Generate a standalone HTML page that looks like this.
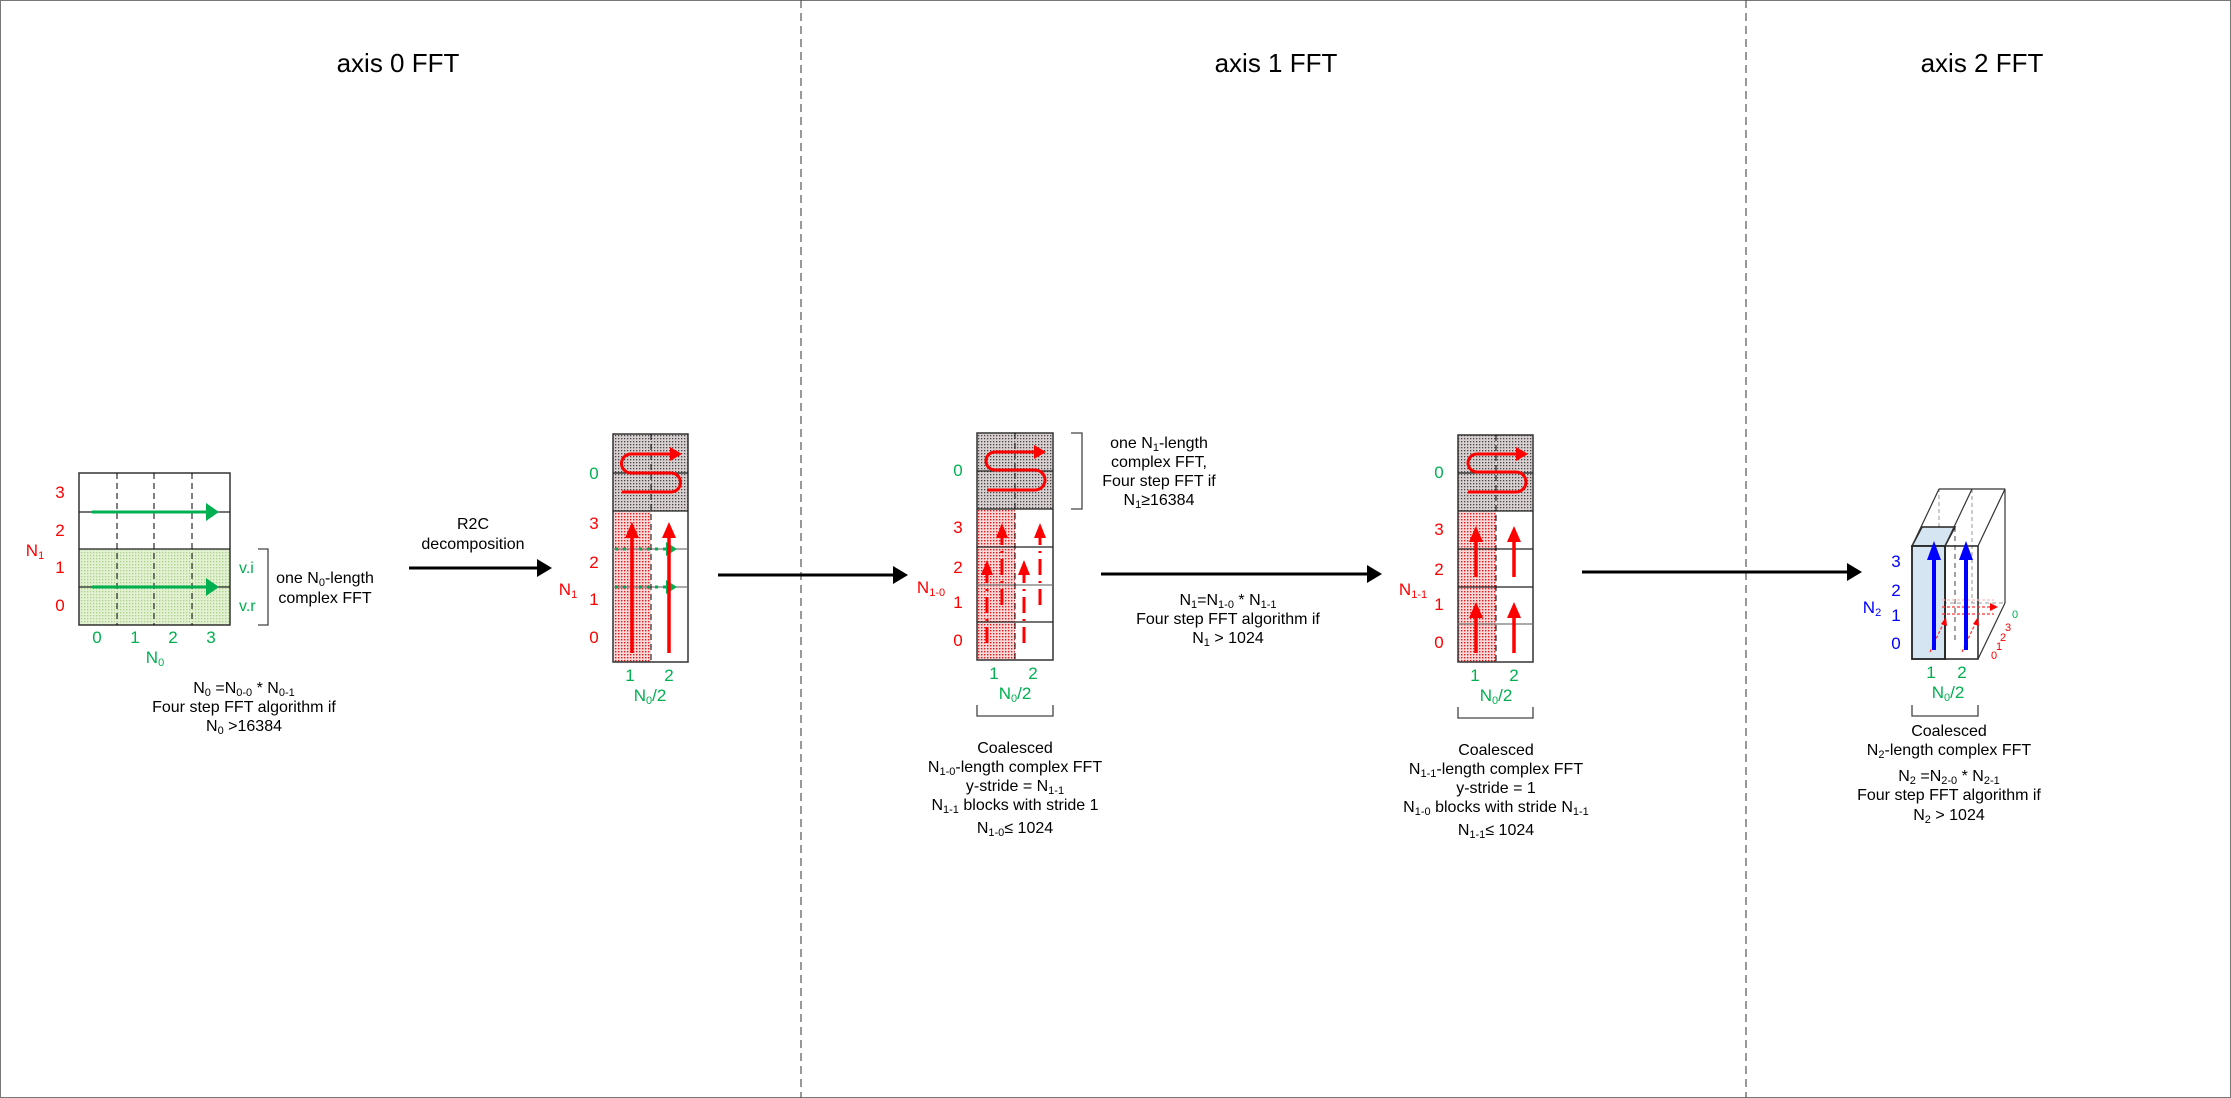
<!DOCTYPE html>
<html><head><meta charset="utf-8"><style>
html,body{margin:0;padding:0;background:#fff}
svg{display:block}
text{font-family:"Liberation Sans",Arial,sans-serif}
</style></head><body>
<svg width="2231" height="1098" viewBox="0 0 2231 1098" xmlns="http://www.w3.org/2000/svg">
<defs>
<pattern id="pd" width="3" height="3" patternUnits="userSpaceOnUse"><rect width="3" height="3" fill="#d8d0d0"/><rect width="1.3" height="1.3" fill="#444"/></pattern>
<pattern id="pr" width="3" height="3" patternUnits="userSpaceOnUse"><rect width="3" height="3" fill="#f8d8d8"/><rect width="1.4" height="1.4" fill="#e01818"/></pattern>
<pattern id="pg" width="3" height="3" patternUnits="userSpaceOnUse"><rect width="3" height="3" fill="#e3f1d3"/><rect width="1.3" height="1.3" fill="#a9cf88"/></pattern>
</defs>
<rect x="0.5" y="0.5" width="2230" height="1097" fill="#fff" stroke="#777"/>
<line x1="801" y1="0" x2="801" y2="1098" stroke="#555" stroke-dasharray="8,5" stroke-width="1.2"/>
<line x1="1746" y1="0" x2="1746" y2="1098" stroke="#555" stroke-dasharray="8,5" stroke-width="1.2"/>

<g font-size="26" text-anchor="middle" fill="#000">
<text x="398" y="72">axis 0 FFT</text>
<text x="1276" y="72">axis 1  FFT</text>
<text x="1982" y="72">axis 2  FFT</text>
</g>

<!-- Left grid -->
<rect x="79" y="549" width="151" height="76" fill="url(#pg)"/>
<rect x="79" y="473" width="151" height="152" fill="none" stroke="#333" stroke-width="1.5"/>
<g stroke="#222" stroke-width="1.2"><line x1="79" y1="512" x2="230" y2="512"/><line x1="79" y1="549" x2="230" y2="549"/><line x1="79" y1="587" x2="230" y2="587"/></g>
<g stroke="#000" stroke-dasharray="6,4"><line x1="117" y1="473" x2="117" y2="625"/><line x1="154" y1="473" x2="154" y2="625"/><line x1="192" y1="473" x2="192" y2="625"/></g>
<g stroke="#00b050" stroke-width="3"><line x1="92" y1="512" x2="206" y2="512"/><line x1="92" y1="587" x2="206" y2="587"/></g>
<g fill="#00b050"><path d="M206,503 L219,512 L206,521z"/><path d="M206,578 L219,587 L206,596z"/></g>
<g font-size="17" fill="#f00" text-anchor="middle"><text x="60" y="498">3</text><text x="60" y="536">2</text><text x="60" y="573">1</text><text x="60" y="611">0</text><text x="35" y="556">N<tspan font-size="11" dy="3">1</tspan></text></g>
<g font-size="17" fill="#00b050" text-anchor="middle"><text x="97" y="643">0</text><text x="135" y="643">1</text><text x="173" y="643">2</text><text x="211" y="643">3</text><text x="155" y="663">N<tspan font-size="11" dy="3">0</tspan></text></g>
<g font-size="16" fill="#00b050"><text x="239" y="573">v.i</text><text x="239" y="611">v.r</text></g>
<path d="M258,549 H268 V625 H258" fill="none" stroke="#444" stroke-width="1.3"/>
<g font-size="16" text-anchor="middle"><text x="325" y="583">one N<tspan font-size="11" dy="3">0</tspan><tspan dy="-3">-length</tspan></text><text x="325" y="603">complex FFT</text>
<text x="244" y="693">N<tspan font-size="11" dy="3">0</tspan><tspan dy="-3"> =N</tspan><tspan font-size="11" dy="3">0-0</tspan><tspan dy="-3"> * N</tspan><tspan font-size="11" dy="3">0-1</tspan></text>
<text x="244" y="712">Four step FFT algorithm if</text>
<text x="244" y="731">N<tspan font-size="11" dy="3">0</tspan><tspan dy="-3"> &gt;16384</tspan></text>
<text x="473" y="529">R2C</text><text x="473" y="549">decomposition</text></g>

<g stroke="#000" stroke-width="3"><line x1="409" y1="568" x2="540" y2="568"/><line x1="718" y1="575" x2="896" y2="575"/><line x1="1101" y1="574" x2="1370" y2="574"/><line x1="1582" y1="572" x2="1850" y2="572"/></g>
<g fill="#000"><path d="M537,559 L552,568 L537,577z"/><path d="M893,566 L908,575 L893,584z"/><path d="M1367,565 L1382,574 L1367,583z"/><path d="M1847,563 L1862,572 L1847,581z"/></g>

<!-- Grid 2 -->
<rect x="613" y="434" width="75" height="77" fill="url(#pd)"/>
<rect x="613" y="511" width="38" height="151" fill="url(#pr)"/>
<rect x="613" y="434" width="75" height="228" fill="none" stroke="#333" stroke-width="1.5"/>
<g stroke="#222" stroke-width="1.2"><line x1="613" y1="473" x2="688" y2="473"/><line x1="613" y1="511" x2="688" y2="511"/><line x1="613" y1="549" x2="688" y2="549" stroke="#777"/><line x1="613" y1="587" x2="688" y2="587" stroke="#777"/></g>
<line x1="651" y1="434" x2="651" y2="662" stroke="#000" stroke-dasharray="6,4"/>
<g stroke="#00b050" stroke-width="3" stroke-dasharray="3,5"><line x1="615" y1="549" x2="668" y2="549"/><line x1="615" y1="587" x2="668" y2="587"/></g>
<g fill="#00b050"><path d="M666,542 L677,549 L666,556z"/><path d="M666,580 L677,587 L666,594z"/></g>
<g stroke="#f00" stroke-width="3.5"><line x1="632" y1="653" x2="632" y2="535"/><line x1="669" y1="653" x2="669" y2="535"/></g>
<g fill="#f00"><path d="M625,538 L632,522 L639,538z"/><path d="M662,538 L669,522 L676,538z"/></g>
<path d="M622,492 H671 A9.5,9.5 0 0 0 671,473 H631 A9.5,9.5 0 0 1 631,454 H672" fill="none" stroke="#f00" stroke-width="3"/>
<path d="M670,447 L682,454 L670,461z" fill="#f00"/>
<g font-size="17" text-anchor="middle"><text x="594" y="479" fill="#00b050">0</text><g fill="#f00"><text x="594" y="529">3</text><text x="594" y="568">2</text><text x="594" y="605">1</text><text x="594" y="643">0</text><text x="568" y="595">N<tspan font-size="11" dy="3">1</tspan></text></g>
<g fill="#00b050"><text x="630" y="681">1</text><text x="669" y="681">2</text><text x="650" y="701">N<tspan font-size="11" dy="3">0</tspan><tspan dy="-3">/2</tspan></text></g></g>

<!-- Grid 3 -->
<rect x="977" y="433" width="76" height="76" fill="url(#pd)"/>
<rect x="977" y="509" width="38" height="151" fill="url(#pr)"/>
<rect x="977" y="433" width="76" height="227" fill="none" stroke="#333" stroke-width="1.5"/>
<g stroke="#222" stroke-width="1.2"><line x1="977" y1="471" x2="1053" y2="471"/><line x1="977" y1="509" x2="1053" y2="509"/><line x1="977" y1="547" x2="1053" y2="547"/><line x1="977" y1="585" x2="1053" y2="585" stroke="#777"/><line x1="977" y1="622" x2="1053" y2="622"/></g>
<line x1="1015" y1="433" x2="1015" y2="660" stroke="#000" stroke-dasharray="6,4"/>
<g stroke="#f00" stroke-width="3" stroke-dasharray="16,6,2,6"><line x1="987" y1="643" x2="987" y2="572"/><line x1="1002" y1="605" x2="1002" y2="535"/><line x1="1024" y1="643" x2="1024" y2="572"/><line x1="1040" y1="605" x2="1040" y2="535"/></g>
<g fill="#f00"><path d="M981,575 L987,560 L993,575z"/><path d="M996,538 L1002,523 L1008,538z"/><path d="M1018,575 L1024,560 L1030,575z"/><path d="M1034,538 L1040,523 L1046,538z"/></g>
<path d="M987,490 H1035 A10,10 0 0 0 1035,470 H995 A9,9 0 0 1 995,452 H1036" fill="none" stroke="#f00" stroke-width="3"/>
<path d="M1034,445 L1046,452 L1034,459z" fill="#f00"/>
<path d="M1071,433 H1082 V509 H1071" fill="none" stroke="#444" stroke-width="1.3"/>
<g font-size="17" text-anchor="middle"><text x="958" y="476" fill="#00b050">0</text><g fill="#f00"><text x="958" y="533">3</text><text x="958" y="573">2</text><text x="958" y="608">1</text><text x="958" y="646">0</text><text x="931" y="593">N<tspan font-size="11" dy="3">1-0</tspan></text></g>
<g fill="#00b050"><text x="994" y="679">1</text><text x="1033" y="679">2</text><text x="1015" y="699">N<tspan font-size="11" dy="3">0</tspan><tspan dy="-3">/2</tspan></text></g></g>
<path d="M977,705 V716 H1053 V705" fill="none" stroke="#444" stroke-width="1.3"/>
<g font-size="16" text-anchor="middle">
<text x="1159" y="448">one N<tspan font-size="11" dy="3">1</tspan><tspan dy="-3">-length</tspan></text><text x="1159" y="467">complex FFT,</text><text x="1159" y="486">Four step FFT if</text><text x="1159" y="505">N<tspan font-size="11" dy="3">1</tspan><tspan dy="-3">≥16384</tspan></text>
<text x="1228" y="605">N<tspan font-size="11" dy="3">1</tspan><tspan dy="-3">=N</tspan><tspan font-size="11" dy="3">1-0</tspan><tspan dy="-3"> * N</tspan><tspan font-size="11" dy="3">1-1</tspan></text>
<text x="1228" y="624">Four step FFT algorithm if</text>
<text x="1228" y="643">N<tspan font-size="11" dy="3">1</tspan><tspan dy="-3"> &gt; 1024</tspan></text>
<text x="1015" y="753">Coalesced</text>
<text x="1015" y="772">N<tspan font-size="11" dy="3">1-0</tspan><tspan dy="-3">-length complex FFT</tspan></text>
<text x="1015" y="791">y-stride = N<tspan font-size="11" dy="3">1-1</tspan></text>
<text x="1015" y="810">N<tspan font-size="11" dy="3">1-1</tspan><tspan dy="-3"> blocks with stride 1</tspan></text>
<text x="1015" y="833">N<tspan font-size="11" dy="3">1-0</tspan><tspan dy="-3">≤ 1024</tspan></text>
</g>

<!-- Grid 4 -->
<rect x="1458" y="435" width="75" height="76" fill="url(#pd)"/>
<rect x="1458" y="511" width="38" height="151" fill="url(#pr)"/>
<rect x="1458" y="435" width="75" height="227" fill="none" stroke="#333" stroke-width="1.5"/>
<g stroke="#222" stroke-width="1.2"><line x1="1458" y1="473" x2="1533" y2="473"/><line x1="1458" y1="511" x2="1533" y2="511"/><line x1="1458" y1="549" x2="1533" y2="549"/><line x1="1458" y1="587" x2="1533" y2="587"/><line x1="1458" y1="624" x2="1533" y2="624" stroke="#777"/></g>
<line x1="1496" y1="435" x2="1496" y2="662" stroke="#000" stroke-dasharray="6,4"/>
<g stroke="#f00" stroke-width="3.5"><line x1="1476" y1="653" x2="1476" y2="615"/><line x1="1476" y1="577" x2="1476" y2="539"/><line x1="1514" y1="653" x2="1514" y2="615"/><line x1="1514" y1="577" x2="1514" y2="539"/></g>
<g fill="#f00"><path d="M1469,618 L1476,602 L1483,618z"/><path d="M1469,542 L1476,526 L1483,542z"/><path d="M1507,618 L1514,602 L1521,618z"/><path d="M1507,542 L1514,526 L1521,542z"/></g>
<path d="M1468,492 H1516 A10,10 0 0 0 1516,472 H1477 A9,9 0 0 1 1477,454 H1518" fill="none" stroke="#f00" stroke-width="3"/>
<path d="M1516,447 L1528,454 L1516,461z" fill="#f00"/>
<g font-size="17" text-anchor="middle"><text x="1439" y="478" fill="#00b050">0</text><g fill="#f00"><text x="1439" y="535">3</text><text x="1439" y="575">2</text><text x="1439" y="610">1</text><text x="1439" y="648">0</text><text x="1413" y="595">N<tspan font-size="11" dy="3">1-1</tspan></text></g>
<g fill="#00b050"><text x="1475" y="681">1</text><text x="1514" y="681">2</text><text x="1496" y="701">N<tspan font-size="11" dy="3">0</tspan><tspan dy="-3">/2</tspan></text></g></g>
<path d="M1458,707 V718 H1533 V707" fill="none" stroke="#444" stroke-width="1.3"/>
<g font-size="16" text-anchor="middle">
<text x="1496" y="755">Coalesced</text>
<text x="1496" y="774">N<tspan font-size="11" dy="3">1-1</tspan><tspan dy="-3">-length complex FFT</tspan></text>
<text x="1496" y="793">y-stride = 1</text>
<text x="1496" y="812">N<tspan font-size="11" dy="3">1-0</tspan><tspan dy="-3"> blocks with stride N</tspan><tspan font-size="11" dy="3">1-1</tspan></text>
<text x="1496" y="835">N<tspan font-size="11" dy="3">1-1</tspan><tspan dy="-3">≤ 1024</tspan></text>
</g>

<!-- 3D box -->
<g fill="none" stroke="#555" stroke-width="1">
<rect x="1939" y="489" width="66" height="114" stroke-dasharray="4,3" stroke="#999"/>
<line x1="1972" y1="489" x2="1972" y2="603" stroke-dasharray="4,3" stroke="#999"/>
<line x1="1922" y1="527" x2="1922" y2="640" stroke-dasharray="5,4" stroke="#444"/>
<line x1="1955" y1="527" x2="1955" y2="640" stroke-dasharray="5,4" stroke="#444"/>
<line x1="1912" y1="659" x2="1939" y2="603" stroke-dasharray="4,3" stroke="#999"/>
</g>
<path d="M1912,546 L1922,527 H1955 L1945,546z" fill="#d6e5f2" stroke="#222" stroke-width="1.5"/>
<rect x="1912" y="546" width="33" height="113" fill="#d6e5f2" stroke="#222" stroke-width="1.8"/>
<rect x="1945" y="546" width="33" height="113" fill="none" stroke="#222" stroke-width="1.5"/>
<g stroke="#333" stroke-width="1.2" fill="none">
<line x1="1912" y1="546" x2="1939" y2="489"/><line x1="1939" y1="489" x2="2005" y2="489"/><line x1="1945" y1="546" x2="1972" y2="489"/>
<line x1="1978" y1="546" x2="2005" y2="489"/><line x1="2005" y1="489" x2="2005" y2="603"/><line x1="2005" y1="603" x2="1978" y2="659"/>
</g>
<g stroke="#f33" stroke-width="1.3" stroke-dasharray="3,2" fill="none">
<line x1="1942" y1="607" x2="1994" y2="607"/><line x1="1942" y1="614" x2="1994" y2="614"/><line x1="1942" y1="600" x2="1994" y2="600" stroke="#fbb"/>
<line x1="1930" y1="652" x2="1944" y2="622"/><line x1="1962" y1="652" x2="1976" y2="622"/>
</g>
<g fill="#f00"><path d="M1990,603 L1998,607 L1990,611z"/><path d="M1941,624 L1946,617 L1947,626z"/><path d="M1973,624 L1978,617 L1979,626z"/></g>
<g stroke="#00f" stroke-width="4"><line x1="1934" y1="650" x2="1934" y2="556"/><line x1="1966" y1="650" x2="1966" y2="556"/></g>
<g fill="#00f"><path d="M1927,560 L1934,541 L1941,560z"/><path d="M1959,560 L1966,541 L1973,560z"/></g>
<g font-size="11"><text x="2012" y="618" fill="#00b050">0</text><g fill="#f00"><text x="2005" y="631">3</text><text x="2000" y="641">2</text><text x="1996" y="650">1</text><text x="1991" y="659">0</text></g></g>
<g font-size="17" text-anchor="middle"><g fill="#00f"><text x="1896" y="567">3</text><text x="1896" y="596">2</text><text x="1896" y="621">1</text><text x="1896" y="649">0</text><text x="1872" y="613">N<tspan font-size="11" dy="3">2</tspan></text></g>
<g fill="#00b050"><text x="1931" y="678">1</text><text x="1962" y="678">2</text><text x="1948" y="698">N<tspan font-size="11" dy="3">0</tspan><tspan dy="-3">/2</tspan></text></g></g>
<path d="M1912,705 V716 H1978 V705" fill="none" stroke="#444" stroke-width="1.3"/>
<g font-size="16" text-anchor="middle">
<text x="1949" y="736">Coalesced</text>
<text x="1949" y="755">N<tspan font-size="11" dy="3">2</tspan><tspan dy="-3">-length complex FFT</tspan></text>
<text x="1949" y="781">N<tspan font-size="11" dy="3">2</tspan><tspan dy="-3"> =N</tspan><tspan font-size="11" dy="3">2-0</tspan><tspan dy="-3"> * N</tspan><tspan font-size="11" dy="3">2-1</tspan></text>
<text x="1949" y="800">Four step FFT algorithm if</text>
<text x="1949" y="820">N<tspan font-size="11" dy="3">2</tspan><tspan dy="-3"> &gt; 1024</tspan></text>
</g>
</svg>
</body></html>
